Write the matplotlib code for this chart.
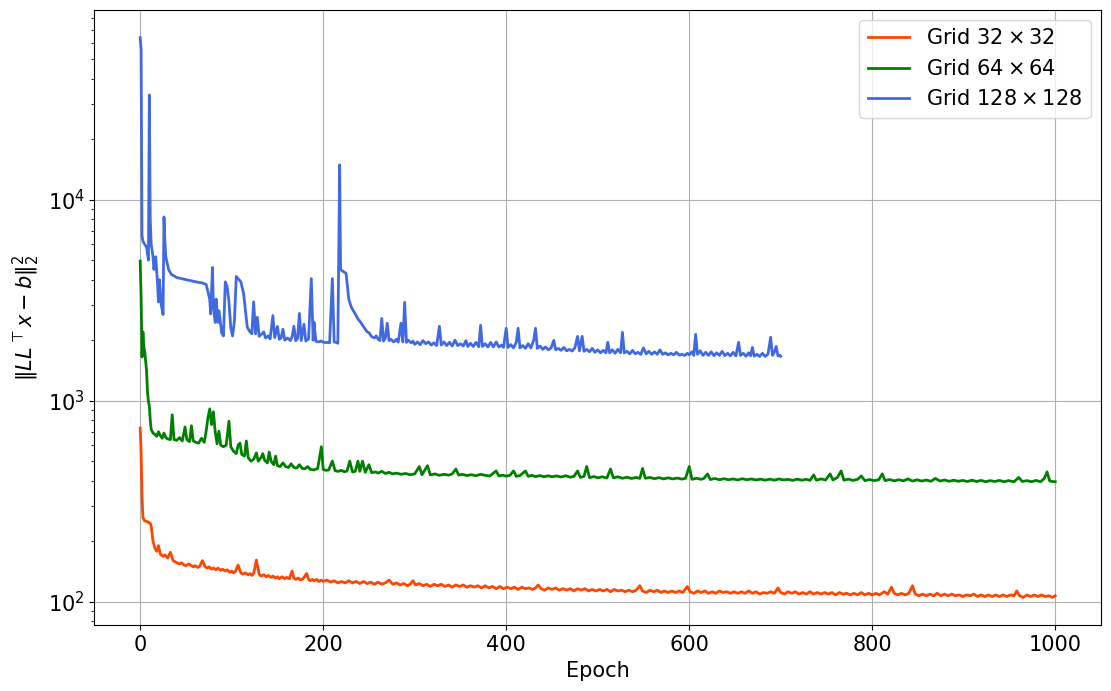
import matplotlib
matplotlib.use("Agg")
import matplotlib.pyplot as plt

# (epoch, residual)
grid32 = [
    (0, 730), (1, 560), (2, 330), (3, 262), (5, 252), (8, 250), (11, 245), (12, 238),
    (14, 200), (16, 185), (18, 178), (20, 190), (22, 172), (25, 168), (27, 171),
    (30, 165), (33, 176), (36, 160), (40, 156), (43, 154), (45, 156), (48, 152),
    (50, 151), (53, 154), (55, 152), (58, 149), (60, 151), (63, 148), (65, 150),
    (68, 160), (71, 149), (73, 147), (75, 149), (78, 145), (80, 147), (83, 144),
    (85, 147), (88, 143), (90, 145), (93, 142), (95, 144), (98, 140), (100, 142),
    (102, 139), (104, 141), (107, 152), (110, 139), (112, 137), (115, 139), (118, 136),
    (120, 138), (122, 135), (124, 138), (127, 161), (130, 137), (132, 134), (135, 136),
    (138, 133), (140, 135), (143, 132), (145, 134), (148, 131), (150, 133), (152, 130),
    (155, 133), (158, 130), (160, 132), (163, 130), (166, 142), (168, 131), (170, 129),
    (173, 131), (175, 128), (178, 130), (182, 138), (184, 129), (186, 127), (188, 129),
    (190, 127), (193, 129), (195, 126), (198, 128), (200, 126), (204, 128), (208, 125),
    (212, 127), (216, 124), (220, 126), (224, 124), (228, 127), (232, 124), (236, 126),
    (240, 123), (244, 126), (248, 123), (252, 125), (256, 122), (260, 125), (264, 122),
    (268, 124), (272, 128), (276, 122), (280, 124), (284, 121), (288, 123), (292, 120),
    (295, 122), (298, 127), (301, 121), (305, 123), (309, 120), (313, 122), (317, 119),
    (321, 122), (325, 120), (329, 122), (333, 119), (337, 121), (341, 118), (345, 121),
    (349, 119), (353, 121), (357, 118), (361, 120), (365, 118), (369, 120), (373, 117),
    (377, 120), (381, 117), (385, 119), (389, 116), (393, 119), (397, 116), (401, 118),
    (405, 116), (409, 118), (413, 115), (417, 118), (421, 116), (425, 117), (429, 115),
    (432, 117), (435, 121), (438, 116), (442, 114), (446, 117), (450, 115), (454, 117),
    (458, 114), (462, 116), (466, 114), (470, 116), (474, 113), (478, 116), (482, 114),
    (486, 116), (490, 113), (494, 115), (498, 113), (502, 115), (506, 113), (510, 115),
    (514, 112), (518, 115), (522, 113), (526, 114), (530, 112), (534, 114), (538, 112),
    (542, 114), (546, 120), (549, 113), (553, 111), (557, 114), (561, 112), (565, 114),
    (569, 111), (573, 113), (577, 111), (581, 113), (585, 111), (589, 113), (593, 111),
    (598, 119), (601, 112), (605, 110), (609, 113), (613, 111), (617, 113), (621, 110),
    (625, 112), (629, 110), (633, 113), (637, 111), (641, 112), (645, 110), (649, 112),
    (653, 110), (657, 112), (661, 110), (665, 113), (669, 110), (673, 112), (677, 109),
    (681, 111), (685, 110), (689, 112), (693, 110), (697, 117), (700, 111), (704, 109),
    (708, 112), (712, 110), (716, 112), (720, 109), (724, 111), (728, 109), (732, 112),
    (736, 109), (740, 111), (744, 109), (748, 111), (752, 109), (756, 111), (760, 108),
    (764, 111), (768, 109), (772, 110), (776, 108), (780, 110), (784, 108), (788, 111),
    (792, 108), (796, 110), (800, 108), (804, 110), (808, 108), (813, 112), (817, 109),
    (821, 118), (824, 110), (828, 108), (832, 110), (836, 108), (840, 110), (844, 120),
    (847, 109), (851, 107), (855, 109), (859, 107), (863, 109), (867, 107), (871, 110),
    (875, 107), (879, 109), (883, 107), (887, 109), (891, 107), (895, 108), (899, 106),
    (903, 108), (907, 107), (911, 109), (915, 106), (919, 108), (923, 106), (927, 108),
    (931, 106), (935, 108), (939, 106), (943, 108), (947, 106), (951, 108), (955, 107),
    (958, 113), (961, 107), (965, 105), (969, 108), (973, 106), (977, 108), (981, 106),
    (985, 108), (989, 106), (993, 107), (997, 105), (1000, 107),
]

grid64 = [
    (0, 4950), (1, 3300), (2, 1650), (3, 2200), (4, 1850), (5, 1750), (6, 1560),
    (7, 1400), (8, 1100), (9, 990), (10, 940), (11, 800), (12, 720), (14, 690),
    (16, 680), (18, 665), (20, 700), (22, 670), (24, 650), (26, 690), (28, 655),
    (30, 645), (33, 640), (35, 850), (37, 640), (40, 635), (43, 655), (46, 630),
    (49, 740), (51, 640), (54, 625), (56, 750), (58, 630), (61, 620), (64, 615),
    (67, 650), (70, 620), (72, 700), (74, 820), (76, 910), (78, 760), (80, 880),
    (82, 700), (84, 610), (86, 705), (88, 600), (91, 590), (94, 600), (97, 790),
    (99, 590), (102, 560), (105, 545), (107, 600), (109, 615), (111, 540), (114, 530),
    (116, 630), (118, 520), (121, 500), (124, 510), (127, 550), (129, 500), (132, 520),
    (134, 545), (136, 505), (139, 490), (141, 555), (143, 500), (146, 480), (148, 530),
    (150, 475), (153, 470), (156, 490), (159, 470), (162, 465), (165, 485), (168, 465),
    (171, 462), (174, 480), (177, 460), (180, 458), (183, 470), (186, 455), (190, 452),
    (194, 460), (198, 590), (200, 455), (203, 450), (206, 452), (210, 500), (213, 448),
    (216, 445), (220, 450), (223, 443), (226, 446), (229, 500), (232, 442), (235, 445),
    (238, 500), (240, 445), (243, 500), (246, 440), (250, 480), (253, 438), (257, 442),
    (260, 436), (264, 445), (268, 434), (272, 440), (276, 432), (280, 436), (285, 430),
    (290, 434), (295, 428), (300, 432), (305, 470), (308, 428), (314, 475), (317, 427),
    (322, 432), (327, 425), (332, 430), (337, 426), (341, 432), (345, 457), (348, 426),
    (352, 430), (357, 424), (362, 428), (367, 423), (372, 430), (377, 425), (382, 422),
    (389, 447), (392, 422), (396, 426), (400, 421), (404, 425), (408, 447), (411, 420),
    (415, 424), (421, 447), (424, 420), (428, 425), (432, 419), (437, 424), (441, 418),
    (446, 423), (450, 418), (455, 422), (460, 417), (465, 423), (470, 416), (474, 420),
    (478, 447), (481, 415), (485, 420), (488, 470), (491, 414), (496, 419), (500, 413),
    (505, 418), (510, 412), (514, 457), (517, 413), (522, 418), (527, 411), (532, 416),
    (537, 410), (542, 415), (546, 410), (549, 460), (552, 411), (557, 415), (562, 409),
    (567, 414), (572, 408), (577, 413), (582, 408), (587, 412), (592, 407), (596, 411),
    (600, 470), (603, 406), (608, 411), (613, 406), (616, 410), (620, 432), (623, 405),
    (628, 410), (633, 404), (638, 409), (643, 404), (648, 408), (653, 403), (658, 409),
    (663, 404), (668, 408), (673, 403), (678, 407), (683, 402), (688, 407), (693, 402),
    (698, 408), (703, 403), (708, 406), (713, 401), (718, 407), (723, 402), (728, 406),
    (732, 401), (736, 427), (739, 402), (744, 408), (749, 403), (754, 432), (757, 403),
    (762, 415), (766, 447), (769, 402), (774, 407), (779, 401), (784, 406), (788, 422),
    (792, 400), (797, 405), (802, 400), (807, 404), (811, 432), (814, 400), (819, 405),
    (824, 399), (829, 404), (834, 399), (839, 408), (844, 398), (849, 404), (854, 398),
    (859, 403), (864, 397), (869, 410), (874, 398), (879, 403), (884, 397), (889, 402),
    (894, 397), (899, 401), (904, 396), (909, 402), (914, 396), (919, 401), (924, 395),
    (929, 400), (934, 396), (939, 401), (944, 395), (949, 400), (955, 395), (960, 415),
    (964, 396), (969, 400), (974, 395), (979, 401), (984, 395), (988, 410), (991, 442),
    (994, 398), (997, 396), (1000, 395),
]

grid128 = [
    (0, 64000), (1, 56000), (2, 6600), (3, 6200), (5, 6000), (7, 5800), (9, 5000),
    (10, 33200), (11, 8000), (12, 6000), (14, 5200), (15, 4500), (17, 5200), (19, 3800),
    (20, 3100), (21, 4000), (23, 3000), (25, 2680), (26, 8200), (27, 6200), (28, 5200),
    (31, 4500), (34, 4250), (40, 4100), (50, 4000), (61, 3900), (68, 3850), (72, 3790),
    (74, 3500), (76, 3200), (77, 2700), (79, 4600), (80, 2950), (82, 2450), (83, 3200),
    (85, 2450), (86, 2800), (87, 2600), (89, 2180), (91, 2100), (93, 3900), (95, 3700),
    (97, 3100), (99, 2300), (101, 2100), (103, 2500), (105, 4150), (108, 4000),
    (110, 3900), (113, 3420), (115, 2800), (117, 2320), (120, 2200), (122, 2150),
    (124, 3100), (126, 2150), (128, 2600), (130, 2090), (133, 2150), (135, 2200),
    (137, 2050), (140, 2100), (142, 2030), (145, 2650), (147, 2060), (150, 2340),
    (152, 2020), (154, 2050), (156, 2266), (158, 2000), (161, 2050), (164, 1990),
    (166, 2080), (168, 2345), (170, 1985), (172, 2040), (174, 2716), (176, 1990),
    (179, 2400), (181, 1980), (184, 2030), (187, 4050), (189, 2000), (190, 2454),
    (192, 1975), (195, 1960), (198, 1980), (200, 1955), (203, 1945), (205, 1950),
    (207, 1940), (210, 4050), (212, 1960), (214, 1950), (216, 1930), (218, 14900),
    (219, 4500), (220, 4450), (225, 4300), (228, 3190), (231, 2900), (234, 2750),
    (238, 2550), (241, 2450), (245, 2300), (248, 2200), (250, 2180), (253, 2080),
    (256, 2050), (258, 2100), (260, 2020), (262, 1990), (264, 2565), (266, 1980),
    (268, 2050), (270, 2427), (272, 1990), (274, 2020), (277, 1960), (280, 2019),
    (282, 1955), (285, 2427), (287, 1960), (289, 3085), (291, 1950), (293, 2000),
    (296, 1940), (298, 1980), (300, 1906), (303, 1960), (306, 1900), (309, 1990),
    (312, 1920), (315, 1960), (318, 1890), (321, 1940), (324, 1880), (327, 2345),
    (329, 1890), (332, 1960), (335, 1880), (338, 1950), (341, 1870), (344, 2000),
    (347, 1880), (350, 1920), (353, 1870), (356, 1990), (358, 1860), (361, 1930),
    (364, 1860), (367, 1950), (370, 1855), (372, 2372), (374, 1860), (377, 1920),
    (380, 1850), (383, 1950), (386, 1850), (389, 1960), (392, 1850), (395, 1890),
    (397, 1840), (400, 2292), (402, 1840), (405, 1900), (408, 1830), (411, 1950),
    (413, 2292), (415, 1830), (418, 1880), (421, 1820), (424, 1920), (427, 1830),
    (430, 2000), (432, 2292), (434, 1820), (437, 1870), (440, 1800), (443, 1850),
    (446, 1790), (449, 1830), (452, 1996), (454, 1790), (457, 1820), (460, 1780),
    (463, 1840), (466, 1770), (469, 1800), (472, 1765), (475, 1830), (478, 2089),
    (480, 1770), (483, 2089), (485, 1760), (488, 1800), (491, 1750), (494, 1820),
    (497, 1740), (500, 1790), (503, 1730), (506, 1780), (509, 1730), (511, 1951),
    (513, 1730), (516, 1790), (519, 1720), (522, 1800), (525, 1730), (527, 2188),
    (529, 1730), (532, 1760), (535, 1710), (538, 1780), (541, 1710), (544, 1740),
    (547, 1700), (550, 1830), (553, 1710), (556, 1760), (559, 1700), (562, 1750),
    (565, 1700), (568, 1790), (571, 1700), (574, 1730), (577, 1690), (580, 1720),
    (583, 1690), (586, 1740), (589, 1685), (592, 1700), (595, 1680), (598, 1720),
    (600, 1690), (603, 1750), (605, 1680), (607, 2138), (609, 1700), (612, 1770),
    (615, 1680), (618, 1740), (621, 1680), (624, 1750), (627, 1675), (630, 1730),
    (633, 1680), (636, 1760), (639, 1675), (642, 1720), (645, 1670), (648, 1740),
    (651, 1670), (654, 1951), (656, 1680), (659, 1720), (662, 1665), (665, 1730),
    (667, 1670), (669, 1841), (671, 1665), (674, 1700), (677, 1660), (680, 1720),
    (683, 1660), (686, 1700), (689, 2066), (691, 1680), (693, 1740), (695, 1862),
    (697, 1670), (699, 1680), (700, 1662),
]

series = [
    (grid32, r"Grid $32 \times 32$", "orangered"),
    (grid64, r"Grid $64 \times 64$", "green"),
    (grid128, r"Grid $128 \times 128$", "royalblue"),
]


def main():
    fig, ax = plt.subplots(figsize=(11.11, 6.91), dpi=100)
    for data, label, color in series:
        epochs = [e for e, _ in data]
        values = [v for _, v in data]
        ax.plot(epochs, values, color=color, lw=2, label=label)

    ax.set_yscale("log")
    ax.set_xlabel("Epoch", fontsize=15)
    ax.set_ylabel(r"$\|LL^\top x - b\|_2^2$", fontsize=15)
    ax.tick_params(labelsize=15)
    ax.grid(True)
    ax.legend(loc="upper right", fontsize=15)
    fig.subplots_adjust(left=0.085, right=0.991, top=0.986, bottom=0.095)
    fig.savefig("out.png")


if __name__ == "__main__":
    main()
